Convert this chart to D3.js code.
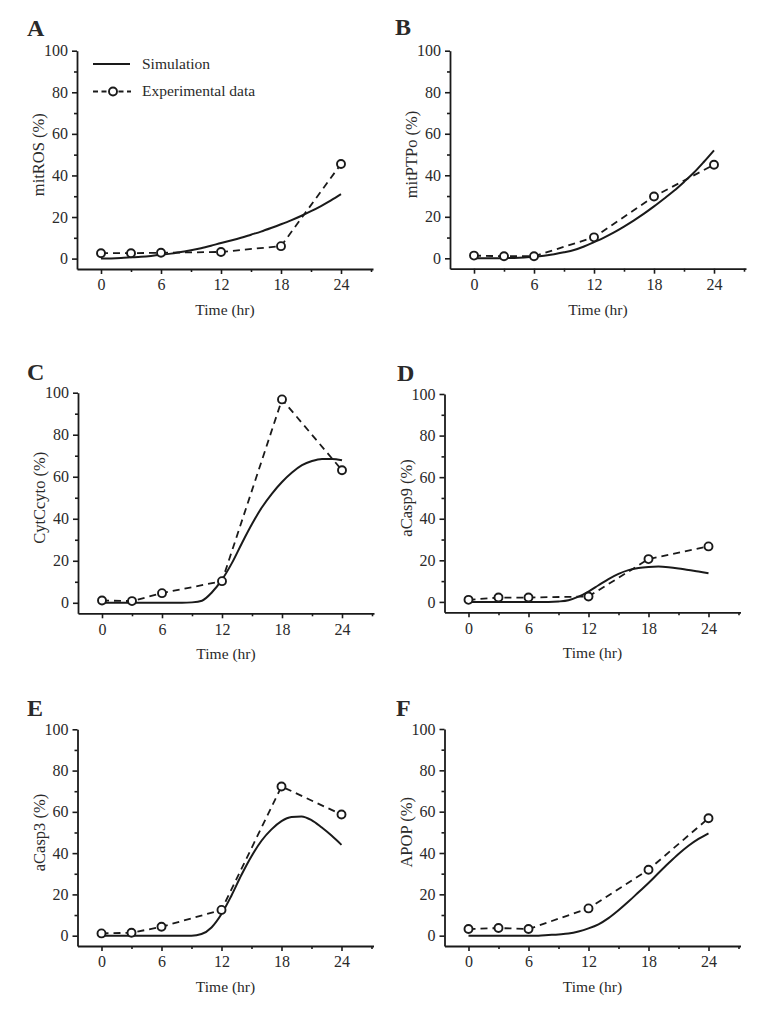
<!DOCTYPE html>
<html>
<head>
<meta charset="utf-8">
<script src="https://cdn.jsdelivr.net/npm/d3@7"></script>
<style>
  html, body { margin: 0; padding: 0; background: #fff; }
  svg { display: block; }
  text { font-family: "Liberation Serif", "Times New Roman", serif; fill: #2a2a2a; }
</style>
</head>
<body>
<svg id="chart" width="758" height="1017"></svg>
<script>
// ---------------- data ----------------
const panelLetters = ["A", "B", "C", "D", "E", "F"];
const yLabels = ["mitROS (%)", "mitPTPo (%)", "CytCcyto (%)", "aCasp9 (%)", "aCasp3 (%)", "APOP (%)"];
const xTitle = "Time (hr)";
const xTicks = [0, 6, 12, 18, 24];
const xMinorTicks = [3, 9, 15, 21, 27];
const yTicks = [0, 20, 40, 60, 80, 100];
const yMinorTicks = [10, 30, 50, 70, 90];
const legendLabels = ["Simulation", "Experimental data"];

// experimental time points
const expTimes = [0, 3, 6, 12, 18, 24];
const expA = [2.6, 2.6, 2.8, 3.2, 6.0, 45.5];
const expB = [1.3, 1.0, 1.0, 10.1, 29.8, 45.1];
const expC = [1.1, 0.8, 4.6, 10.3, 96.8, 63.1];
const expD = [1.0, 2.1, 2.1, 2.6, 20.6, 26.7];
const expE = [1.1, 1.4, 4.3, 12.5, 72.3, 58.7];
const expF = [3.2, 3.7, 3.2, 13.2, 31.9, 56.8];

const simTimes = [0,1,2,3,4,5,6,7,8,9,10,11,12,13,14,15,16,17,18,19,20,21,22,23,24];
const simA = [0,0.1,0.3,0.6,0.9,1.3,1.8,2.4,3.2,4.0,5.0,6.2,7.5,8.7,10,11.5,13,14.7,16.5,18.4,20.5,22.8,25.3,28,31];
const simB = [0,0,0,0.1,0.2,0.4,0.7,1.2,2,2.9,4,5.7,7.8,10,12.5,15.3,18.3,21.5,25,28.7,32.5,36.8,41.3,46.5,52];
const simC = [0,0,0,0,0,0,0,0,0,0.2,1,5,11,19,28.5,37.5,45.5,52,57.5,62,65.5,67.5,68.5,68.5,67.8];
const simD = [0,0,0,0,0,0,0,0,0,0.2,0.8,2.5,5,8,11,13.5,15.3,16.3,16.8,17,16.7,16.1,15.3,14.6,13.8];
const simE = [0,0,0,0,0,0,0,0,0,0,0.8,4,10.5,19.5,29.5,38.5,46,51.5,55.5,57.5,57.8,56,52.5,48.5,44];
const simF = [0,0,0,0,0,0,0,0,0.3,0.6,1,2,3.5,5.5,8.5,12.3,16.5,21,25.5,30.3,35,39.5,43.5,46.8,49.5];

const expSeries = [expA, expB, expC, expD, expE, expF];
const simSeries = [simA, simB, simC, simD, simE, simF];

// ---------------- layout ----------------
const layout = [
  { axisX: 77,    top: 50.7,  bottom: 269,   lx: 27,  ly: 36 },
  { axisX: 450,   top: 50.7,  bottom: 268.7, lx: 395, ly: 35 },
  { axisX: 78,    top: 392.7, bottom: 613.3, lx: 27,  ly: 380 },
  { axisX: 444.5, top: 394,   bottom: 612.3, lx: 397, ly: 381 },
  { axisX: 77.5,  top: 729.3, bottom: 946,   lx: 27,  ly: 716 },
  { axisX: 444.5, top: 729,   bottom: 946,   lx: 396, ly: 716 }
];
const xDomain = [-2.4, 27.2];
const yDomain = [-5, 100];
const xWidth = 296;

const svg = d3.select("#chart");
const ink = "#1a1a1a";

layout.forEach((L, i) => {
  const g = svg.append("g");
  const x = d3.scaleLinear().domain(xDomain).range([L.axisX, L.axisX + xWidth]);
  const y = d3.scaleLinear().domain(yDomain).range([L.bottom, L.top]);

  // axes
  const xAxis = d3.axisBottom(x).tickValues(xTicks).tickSize(5).tickSizeOuter(0).tickPadding(5);
  const xMinor = d3.axisBottom(x).tickValues(xMinorTicks).tickSize(3).tickSizeOuter(0).tickFormat("");
  const yAxis = d3.axisLeft(y).tickValues(yTicks).tickSize(5).tickSizeOuter(0).tickPadding(4);
  const yMinor = d3.axisLeft(y).tickValues(yMinorTicks).tickSize(3).tickSizeOuter(0).tickFormat("");

  const gxm = g.append("g").attr("transform", `translate(0,${L.bottom})`).call(xMinor);
  gxm.select(".domain").remove();
  const gym = g.append("g").attr("transform", `translate(${L.axisX},0)`).call(yMinor);
  gym.select(".domain").remove();
  const gx = g.append("g").attr("transform", `translate(0,${L.bottom})`).call(xAxis);
  const gy = g.append("g").attr("transform", `translate(${L.axisX},0)`).call(yAxis);

  [gx, gy, gxm, gym].forEach(a => {
    a.selectAll("path, line").attr("stroke", ink).attr("stroke-width", 1.6);
    a.selectAll("text").attr("font-size", 16).attr("fill", "#333")
      .style("font-family", '"Liberation Serif", "Times New Roman", serif');
  });
  gx.selectAll(".domain").attr("stroke-width", 1.8);
  gy.selectAll(".domain").attr("stroke-width", 1.8);

  // panel letter
  g.append("text").attr("x", L.lx).attr("y", L.ly)
    .attr("font-size", 24).attr("font-weight", "bold").attr("fill", "#111")
    .text(panelLetters[i]);

  // y label
  g.append("text")
    .attr("transform", `translate(${L.axisX - 33},${y(50)}) rotate(-90)`)
    .attr("text-anchor", "middle").attr("font-size", 16.5).attr("fill", "#333")
    .text(yLabels[i]);

  // x title
  g.append("text")
    .attr("x", L.axisX + xWidth / 2).attr("y", L.bottom + 46)
    .attr("text-anchor", "middle").attr("font-size", 15.5).attr("fill", "#333")
    .text(xTitle);

  // simulation line
  const simData = simTimes.map((t, k) => [t, simSeries[i][k]]);
  g.append("path").datum(simData)
    .attr("fill", "none").attr("stroke", ink).attr("stroke-width", 2)
    .attr("d", d3.line().x(d => x(d[0])).y(d => y(d[1])).curve(d3.curveMonotoneX));

  // experimental dashed line + markers
  const expData = expTimes.map((t, k) => [t, expSeries[i][k]]);
  g.append("path").datum(expData)
    .attr("fill", "none").attr("stroke", ink).attr("stroke-width", 1.8)
    .attr("stroke-dasharray", "7,5")
    .attr("d", d3.line().x(d => x(d[0])).y(d => y(d[1])));
  g.selectAll("circle.exp").data(expData).enter().append("circle")
    .attr("class", "exp")
    .attr("cx", d => x(d[0])).attr("cy", d => y(d[1])).attr("r", 4)
    .attr("fill", "#fff").attr("stroke", ink).attr("stroke-width", 1.9);

  // legend in panel A
  if (i === 0) {
    const lg = g.append("g");
    lg.append("line").attr("x1", 93).attr("x2", 130).attr("y1", 64).attr("y2", 64)
      .attr("stroke", ink).attr("stroke-width", 2);
    lg.append("text").attr("x", 142).attr("y", 69).attr("font-size", 15.5).attr("fill", "#333")
      .text(legendLabels[0]);
    lg.append("line").attr("x1", 93).attr("x2", 131).attr("y1", 91.5).attr("y2", 91.5)
      .attr("stroke", ink).attr("stroke-width", 1.8).attr("stroke-dasharray", "5,3.5");
    lg.append("circle").attr("cx", 113).attr("cy", 91.5).attr("r", 4)
      .attr("fill", "#fff").attr("stroke", ink).attr("stroke-width", 1.9);
    lg.append("text").attr("x", 142).attr("y", 96).attr("font-size", 15.5).attr("fill", "#333")
      .text(legendLabels[1]);
  }
});
</script>
</body>
</html>
